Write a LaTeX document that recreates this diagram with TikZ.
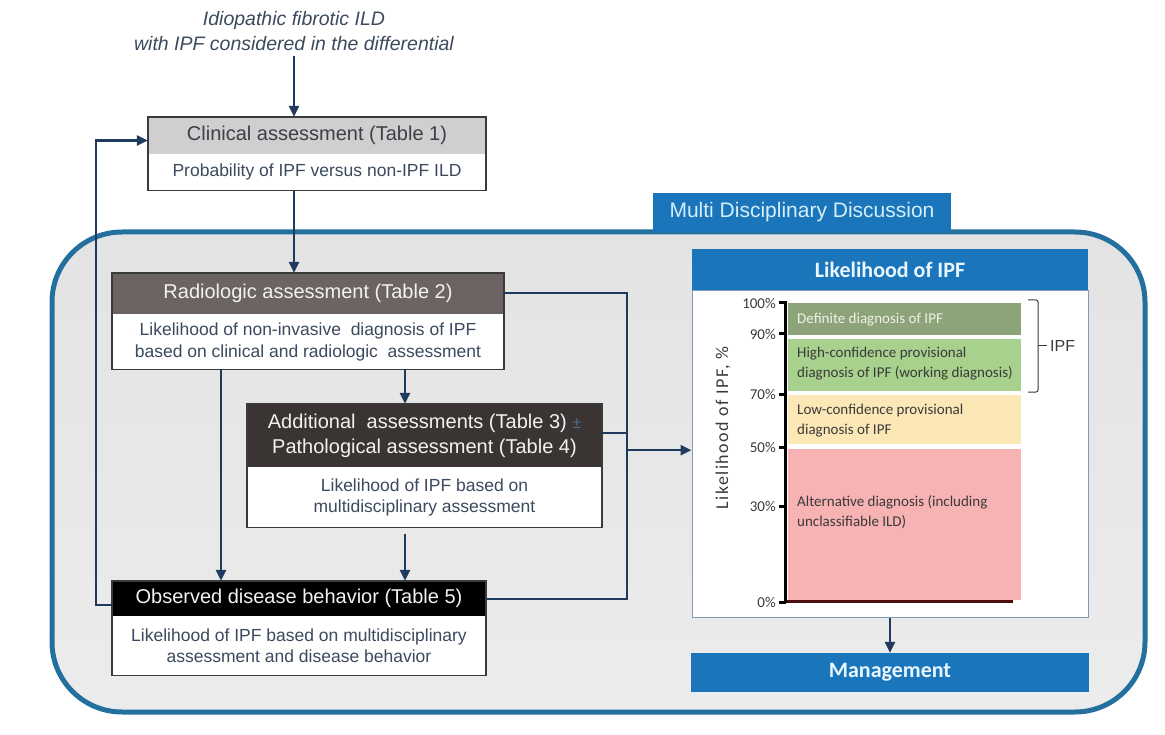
\documentclass[tikz,border=0pt]{standalone}
\usepackage{fontspec}
\setmainfont{Liberation Sans}
\newfontfamily\chartfont{Carlito}
\newfontfamily\axisfont[LetterSpace=8]{Carlito}
\usepackage{tikz}
\usetikzlibrary{positioning,calc,arrows.meta}
\definecolor{mddblue}{HTML}{1B75BB}
\definecolor{mddline}{HTML}{23709F}
\definecolor{bgtop}{HTML}{E3E3E3}
\definecolor{bgbot}{HTML}{ECECEC}
\definecolor{arrowc}{HTML}{1E3A5C}
\definecolor{boxline}{HTML}{3A3A3A}
\definecolor{clinhdr}{HTML}{CFCFCF}
\definecolor{radhdr}{HTML}{6B6463}
\definecolor{addhdr}{HTML}{3A3533}
\definecolor{bodytext}{HTML}{3B4A5E}
\definecolor{hdrtext}{HTML}{F2F2F2}
\definecolor{clintext}{HTML}{3C3F48}
\definecolor{tabtext}{HTML}{D4EEFA}
\definecolor{paneltext}{HTML}{E8F7FF}
\definecolor{pmcol}{HTML}{4A6A90}
\definecolor{defc}{HTML}{8DA37A}
\definecolor{highc}{HTML}{A9D18E}
\definecolor{lowc}{HTML}{FBE8B6}
\definecolor{altc}{HTML}{F7B2B3}
\definecolor{basec}{HTML}{4A0D0D}
\definecolor{deftext}{HTML}{EEF2E6}
\definecolor{chartink}{HTML}{3A3A3A}
\definecolor{chartline}{HTML}{7F9BB5}

\begin{document}
\begin{tikzpicture}[x=1pt, y=-1pt,
  hdr/.style={rectangle, inner sep=0pt, align=center, text=hdrtext, font=\fontsize{20}{25}\selectfont},
  bdy/.style={rectangle, inner sep=0pt, align=center, fill=white, text=bodytext, font=\fontsize{17.5}{21.5}\selectfont},
  frame/.style={draw=boxline, line width=1.5pt},
  flow/.style={draw=arrowc, line width=2.5pt, -{Triangle[length=11pt,width=10pt]}},
  link/.style={draw=arrowc, line width=2pt},
  bluebar/.style={rectangle, fill=mddblue, inner sep=0pt, text=paneltext},
  barlabel/.style={anchor=west, align=left, inner sep=0pt, text=chartink, font=\chartfont\fontsize{15}{20}\selectfont}]

  \useasboundingbox (0,0) rectangle (1165,735);

  % Multi disciplinary discussion frame and tab
  \draw[mddline, line width=5pt, rounded corners=70pt, top color=bgtop, bottom color=bgbot] (52,232) rectangle (1145,712);
  \node[bluebar, text=tabtext, minimum width=298pt, minimum height=39pt, font=\fontsize{21}{21}\selectfont] (mdd) at (802,212.5) {Multi Disciplinary Discussion};

  % Starting point
  \node[align=center, inner sep=5pt, text=bodytext, font=\itshape\fontsize{19.5}{25}\selectfont] (intro) at (294,31) {Idiopathic fibrotic ILD\\with IPF considered in the differential};

  % Clinical assessment
  \node[hdr, fill=clinhdr, text=clintext, minimum width=338pt, minimum height=37pt] (clinh) at (317,135.5) {Clinical assessment (Table 1)};
  \node[bdy, minimum width=338pt, minimum height=36pt, below=0pt of clinh] (clinb) {Probability of IPF versus non-IPF ILD};
  \draw[frame] (clinh.north west) rectangle (clinb.south east);

  % Radiologic assessment
  \node[hdr, fill=radhdr, minimum width=392pt, minimum height=41pt] (radh) at (308,293.5) {Radiologic assessment (Table 2)};
  \node[bdy, minimum width=392pt, minimum height=55pt, below=0pt of radh] (radb) {Likelihood of non-invasive\ \ diagnosis of IPF\\based on clinical and radiologic\ \ assessment};
  \draw[frame] (radh.north west) rectangle (radb.south east);

  % Additional and pathological assessments
  \node[hdr, fill=addhdr, minimum width=355pt, minimum height=63pt] (addh) at (424.5,435.5) {Additional\ \ assessments (Table 3) {\color{pmcol}\fontsize{16}{16}\selectfont ±}\\Pathological assessment (Table 4)};
  \node[bdy, minimum width=355pt, minimum height=60pt, below=0pt of addh] (addb) {Likelihood of IPF based on\\multidisciplinary assessment};
  \draw[frame] (addh.north west) rectangle (addb.south east);

  % Observed disease behavior
  \node[hdr, fill=black, minimum width=374pt, minimum height=35pt] (obsh) at (299,598.5) {Observed disease behavior (Table 5)};
  \node[bdy, minimum width=374pt, minimum height=59pt, below=0pt of obsh] (obsb) {Likelihood of IPF based on multidisciplinary\\assessment and disease behavior};
  \draw[frame] (obsh.north west) rectangle (obsb.south east);

  % Likelihood panel
  \node[bluebar, minimum width=396pt, minimum height=41pt, font=\chartfont\bfseries\fontsize{22}{22}\selectfont] (lhdr) at (890,269.5) {Likelihood of IPF};
  \node[rectangle, draw=chartline, line width=1pt, fill=white, minimum width=396pt, minimum height=327pt, inner sep=0pt, below=0pt of lhdr] (chart) {};

  % Bars
  \foreach \ya/\yb/\col in {303/335/defc, 339/391/highc, 395/444/lowc, 449/600/altc}
    \fill[\col] (788,\ya) rectangle (1021,\yb);
  \node[barlabel, text=deftext] (ldef) at (797,320) {Definite diagnosis of IPF};
  \node[barlabel] (lhigh) at (797,363.5) {High-confidence provisional\\diagnosis of IPF (working diagnosis)};
  \node[barlabel] (llow) at (797,421) {Low-confidence provisional\\diagnosis of IPF};
  \node[barlabel] (lalt) at (797,512.5) {Alternative diagnosis (including\\unclassifiable ILD)};

  % Axis
  \draw[basec, line width=3pt] (786,601) -- (1013,601);
  \draw[black, line width=3pt] (785,301) -- (785,603);
  \foreach \p/\y in {100/303, 90/334, 70/394, 50/447, 30/506, 0/602} {
    \draw[black, line width=3pt] (779,\y) -- (786,\y);
    \node[anchor=east, inner sep=0pt, text=chartink, font=\chartfont\fontsize{15}{15}\selectfont] (t\p) at (776,\y) {\p\%};
  }
  \node[rotate=90, inner sep=0pt, text=chartink, font=\axisfont\fontsize{18}{18}\selectfont] (ylab) at (723,428) {Likelihood of IPF, \%};

  % IPF bracket
  \draw[chartink, line width=1pt, rounded corners=2pt] (1028,300) -- (1038,300) -- (1038,392) -- (1028,392);
  \coordinate (brace) at (1038,346);
  \node[anchor=west, inner sep=0pt, text=chartink, font=\fontsize{16}{16}\selectfont] (ipf) at (1050,346) {IPF};
  \draw[chartink, line width=1pt] (brace) -- ([xshift=-3pt]ipf.west);

  % Management
  \node[bluebar, minimum width=398pt, minimum height=39pt, font=\chartfont\bfseries\fontsize{22}{22}\selectfont] (mgmt) at (890,672.5) {Management};

  % Connectors
  \coordinate (bus) at (627,433);
  \draw[flow] (intro.south) -- (intro.south |- clinh.north);
  \draw[flow] (intro.south |- clinb.south) -- (intro.south |- radh.north);
  \draw[flow] ([xshift=97pt]radb.south) -- ([xshift=97pt]radb.south |- addh.north);
  \draw[flow] ([xshift=-87pt]radb.south) -- ([xshift=-87pt]radb.south |- obsh.north);
  \draw[flow, shorten <=6pt] ([xshift=97pt]radb.south |- addb.south) -- ([xshift=97pt]radb.south |- obsh.north);
  \draw[flow] ([yshift=-6.5pt]obsh.west) -- ++(-16,0) |- ([yshift=-5pt]clinh.west);
  \draw[link] (radh.east) -| (bus) |- (obsh.east);
  \draw[link] ([yshift=2.5pt]addh.east) -- ([yshift=2.5pt]addh.east -| bus);
  \draw[flow] ([yshift=4pt]bus |- chart.west) -- ([yshift=4pt]chart.west);
  \draw[flow] (chart.south) -- (mgmt.north);
\end{tikzpicture}
\end{document}
